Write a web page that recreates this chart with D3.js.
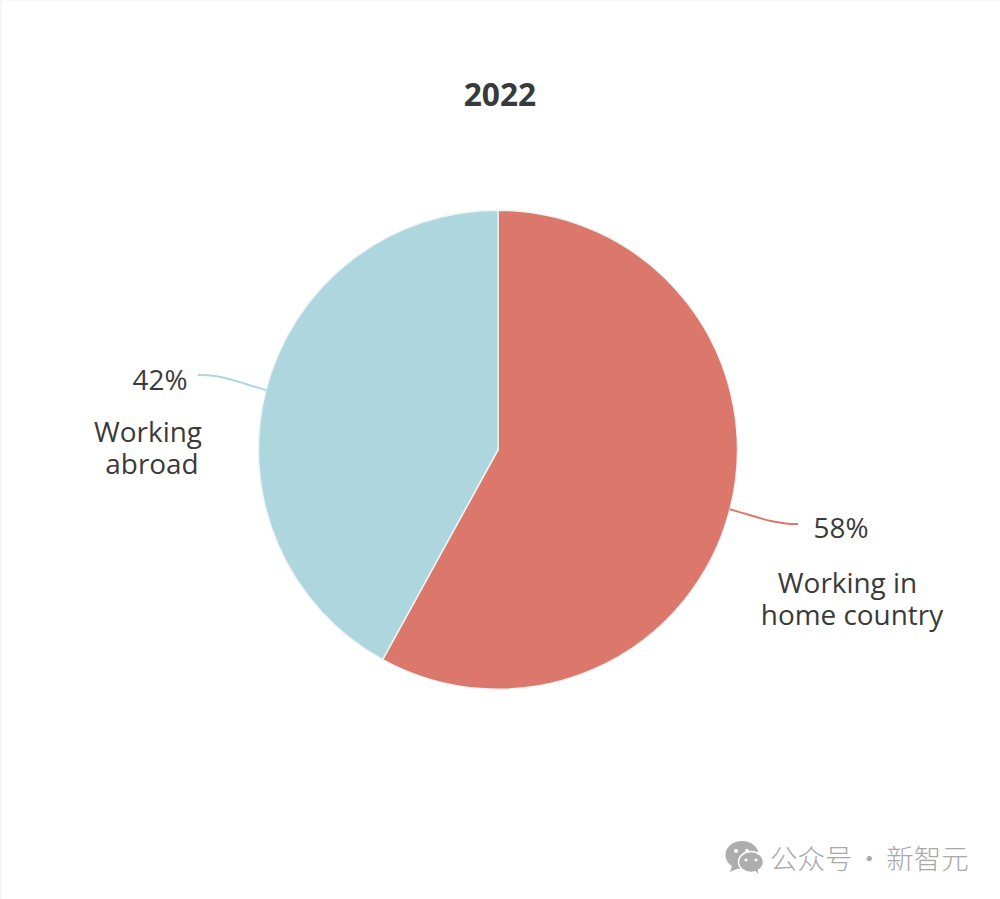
<!DOCTYPE html>
<html>
<head>
<meta charset="utf-8">
<title>2022</title>
<script src="https://cdn.jsdelivr.net/npm/d3@7"></script>
<style>
  html, body { margin: 0; padding: 0; background: #fff; }
  svg { display: block; }
  text { font-family: "Open Sans", sans-serif; fill: #3a3a3a; }
</style>
</head>
<body>
<div id="chart"></div>
<script>
// Chart values
const categories = ["Working in home country", "Working abroad"];
const shares = [58, 42];
const shareLabels = ["58%", "42%"];
const labelLines = [["Working in", "home country"], ["Working", "abroad"]];
const sliceColors = ["#dc776c", "#aed6df"];
const chartTitle = "2022";
const watermark = "公众号 · 新智元";

const width = 1000;
const height = 899;
const cx = 498;
const cy = 449.7;
const radius = 239.5;

const svg = d3.select("#chart")
    .append("svg")
    .attr("width", width)
    .attr("height", height);

// Faint edge of the original screenshot
svg.append("rect").attr("width", width).attr("height", 1).attr("fill", "#f6f6f6");
svg.append("rect").attr("width", 2).attr("height", height).attr("fill", "#f6f6f6");

svg.append("text")
    .attr("x", 500)
    .attr("y", 106)
    .attr("text-anchor", "middle")
    .style("font-size", "31.7px")
    .style("font-weight", 700)
    .text(chartTitle);

const pie = d3.pie().sort(null).value(d => d);
const arc = d3.arc().innerRadius(0).outerRadius(radius);
const arcs = pie(shares);

const g = svg.append("g").attr("transform", `translate(${cx},${cy})`);

g.selectAll("path.slice")
    .data(arcs)
    .enter().append("path")
    .attr("class", "slice")
    .attr("d", arc)
    .attr("fill", (d, i) => sliceColors[i])
    .attr("stroke", "#eef3f3")
    .attr("stroke-width", 1.5)
    .append("title")
    .text((d, i) => categories[i]);

// Leader lines leave each slice at its middle angle, then flatten out
const leaderEnds = [[300, 74.3], [-300, -74.7]];
const leader = d3.line().curve(d3.curveCatmullRom);

g.selectAll("path.leader")
    .data(arcs)
    .enter().append("path")
    .attr("class", "leader")
    .attr("fill", "none")
    .attr("stroke", (d, i) => sliceColors[i])
    .attr("stroke-width", 2)
    .attr("d", (d, i) => {
        const a = (d.startAngle + d.endAngle) / 2;
        const start = [Math.sin(a) * radius, -Math.cos(a) * radius];
        const end = leaderEnds[i];
        const along = (fx, fy) => [start[0] + (end[0] - start[0]) * fx, start[1] + (end[1] - start[1]) * fy];
        return leader([start, along(0.3, 0.41), along(0.6, 0.8), along(0.85, 0.98), end]);
    });

// Percent labels and category names
const valueX = [841, 160];
const valueY = [538, 390];
const nameX = [[847.5, 852], [148, 152]];
const nameY = [593, 442];
const lineStep = 31.5;

svg.selectAll("text.share")
    .data(shareLabels)
    .enter().append("text")
    .attr("class", "share")
    .attr("x", (d, i) => valueX[i])
    .attr("y", (d, i) => valueY[i])
    .attr("text-anchor", "middle")
    .style("font-size", "27.9px")
    .text(d => d);

svg.selectAll("text.name")
    .data(labelLines)
    .enter().append("text")
    .attr("class", "name")
    .attr("text-anchor", "middle")
    .attr("y", (d, i) => nameY[i])
    .style("font-size", "27.9px")
    .each(function(lines, i) {
        d3.select(this).selectAll("tspan")
            .data(lines)
            .enter().append("tspan")
            .attr("x", (d, j) => nameX[i][j])
            .attr("y", (d, j) => nameY[i] + j * lineStep)
            .text(d => d);
    });

// WeChat style watermark
const wm = svg.append("g").attr("fill", "#adadad");
wm.append("ellipse").attr("cx", 742).attr("cy", 855).attr("rx", 16.5).attr("ry", 14);
wm.append("path").attr("d", "M732 866 L730 872 L739 868 Z");
wm.append("ellipse").attr("cx", 751).attr("cy", 862).attr("rx", 12.5).attr("ry", 10.5)
    .attr("stroke", "#fff").attr("stroke-width", 1.5);
wm.append("path").attr("d", "M755 870 L758 874 L758 868 Z");
const eyes = [[736, 851, 2], [747, 851, 2], [746, 860, 1.5], [756, 860, 1.5]];
wm.selectAll("circle")
    .data(eyes)
    .enter().append("circle")
    .attr("cx", d => d[0])
    .attr("cy", d => d[1])
    .attr("r", d => d[2])
    .attr("fill", "#fff");

svg.append("text")
    .attr("x", 770)
    .attr("y", 869)
    .style("font-family", '"Noto Sans CJK SC", sans-serif')
    .style("font-size", "27.5px")
    .style("font-weight", 300)
    .style("word-spacing", "-3px")
    .style("fill", "#a8a8a8")
    .text(watermark);
</script>
</body>
</html>
